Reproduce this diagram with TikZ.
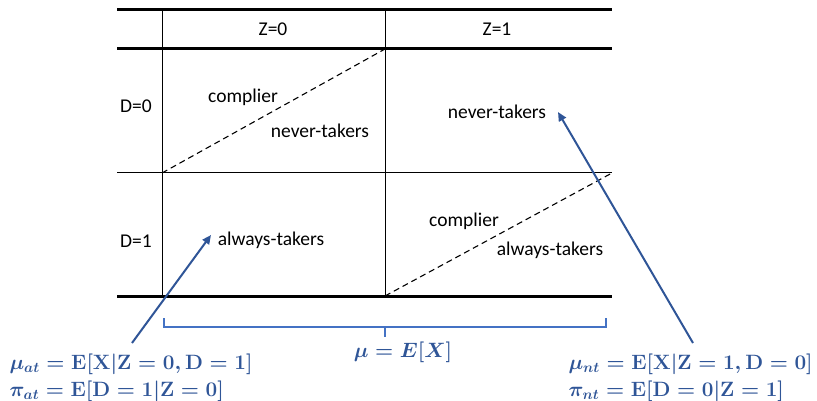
\documentclass[tikz,border=0pt]{standalone}
\usepackage{amsmath}
\usepackage{fontspec}
\setmainfont{Carlito}
\usetikzlibrary{arrows.meta}
\definecolor{formblue}{RGB}{47,85,151}
\definecolor{braceblue}{RGB}{68,114,196}

\begin{document}
\begin{tikzpicture}[x=1pt, y=-1pt, every node/.style={font=\fontsize{19.5}{23}\selectfont},
  rule/.style={line width=3pt}, cell/.style={line width=1pt},
  split/.style={dash pattern=on 6pt off 4pt, line width=1.1pt},
  formula/.style={text=formblue, anchor=west, font=\fontsize{19.6}{23}\selectfont\boldmath},
  pointer/.style={-{Triangle[length=9pt,width=8pt]}, line width=2pt, draw=formblue}]
\useasboundingbox (0,0) rectangle (817,401);

% Table grid
\draw[rule] (117,10) -- (612,10);
\draw[rule] (117,49) -- (612,49);
\draw[cell] (117,173) -- (612,173);
\draw[rule] (117,296) -- (612,296);
\draw[cell] (162,10) -- (162,296);
\draw[cell] (385,10) -- (385,296);

% Complier splits
\draw[split] (162,173) -- (385,49);
\draw[split] (385,296) -- (612,173);

% Headers
\node (z0) at (273,29) {Z=0};
\node (z1) at (497,29) {Z=1};
\node (d0) at (136,106) {D=0};
\node (d1) at (136,241) {D=1};

% Cells
\node (c0) at (243,97) {complier};
\node (nt0) at (320,131) {never-takers};
\node (nt1) at (497,112) {never-takers};
\node (at0) at (271,240) {always-takers};
\node (c1) at (464,221) {complier};
\node (at1) at (550,250) {always-takers};

% Brace
\draw[braceblue, line width=2pt] (164,318) -- (164,327) -- (606,327) -- (606,318);
\draw[braceblue, line width=2pt] (385,327) -- (385,337);
\node[formula, anchor=center] (mu) at (403,352) {$\mu = E[X]$};

% Formulas
\node[formula] (muat) at (6,364) {$\mu_{at} = \mathbf{E}[\mathbf{X}|\mathbf{Z} = 0, \mathbf{D} = 1]$};
\node[formula] (piat) at (6,391) {$\pi_{at} = \mathbf{E}[\mathbf{D} = 1|\mathbf{Z} = 0]$};
\node[formula] (munt) at (565,364) {$\mu_{nt} = \mathbf{E}[\mathbf{X}|\mathbf{Z} = 1, \mathbf{D} = 0]$};
\node[formula] (pint) at (565,391) {$\pi_{nt} = \mathbf{E}[\mathbf{D} = 0|\mathbf{Z} = 1]$};

% Pointers
\coordinate (atfoot) at (132,343);
\coordinate (attip) at (211,235);
\coordinate (ntfoot) at (693,343);
\coordinate (nttip) at (558,112);
\draw[pointer] (atfoot) -- (attip);
\draw[pointer] (ntfoot) -- (nttip);
\end{tikzpicture}
\end{document}
